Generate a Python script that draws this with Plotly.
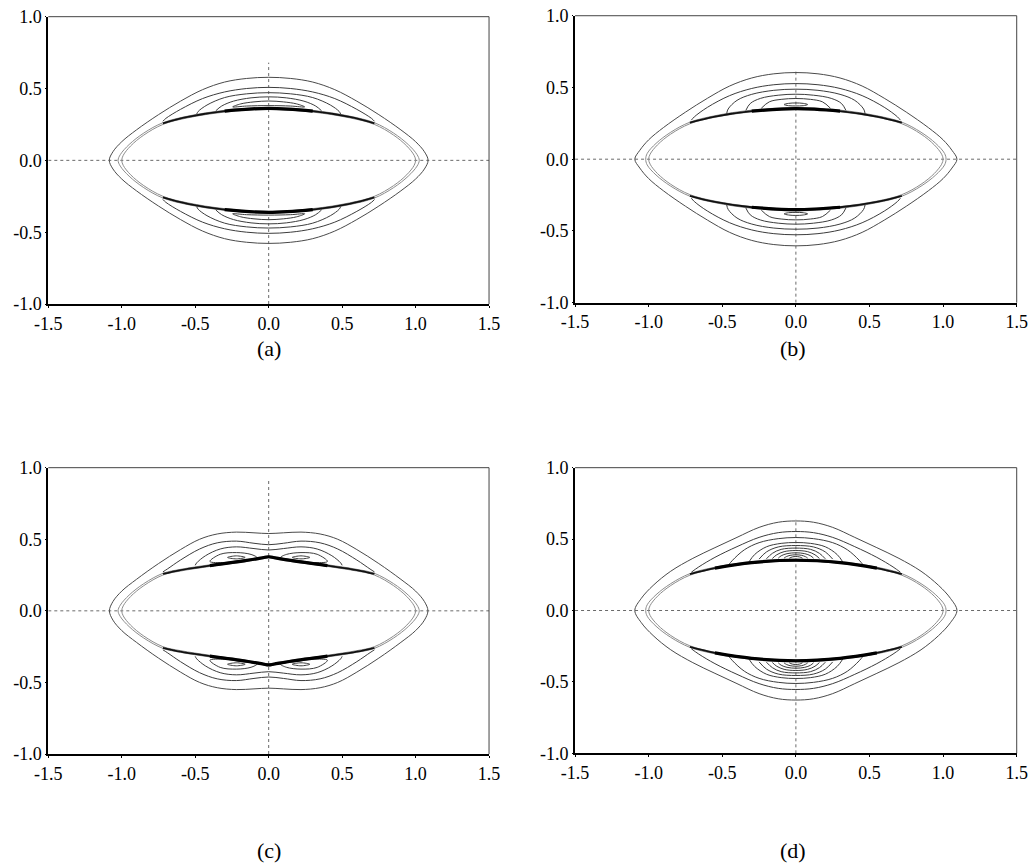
import plotly.graph_objects as go

# ---------------- data (upper-right quadrant, x >= 0) ----------------
# tick labels
X_TICKS = [-1.5, -1.0, -0.5, 0.0, 0.5, 1.0, 1.5]
X_TICK_TEXT = ["-1.5", "-1.0", "-0.5", "0.0", "0.5", "1.0", "1.5"]
Y_TICKS = [-1.0, -0.5, 0.0, 0.5, 1.0]
Y_TICK_TEXT = ["-1.0", "-0.5", "0.0", "0.5", "1.0"]
PANEL_LABELS = ["(a)", "(b)", "(c)", "(d)"]

# ---- panel (a)
PA_OUTER = [(0.00, 0.578), (0.15, 0.570), (0.30, 0.545), (0.45, 0.492), (0.60, 0.412), (0.75, 0.318),
            (0.90, 0.212), (1.00, 0.130), (1.06, 0.060), (1.085, 0.0)]
PA_ELL_OUT = [(0.00, 0.368), (0.30, 0.348), (0.55, 0.308), (0.72, 0.262), (0.85, 0.190), (0.95, 0.110),
              (1.01, 0.040), (1.025, 0.0)]
PA_ELL_IN = [(0.00, 0.355), (0.30, 0.336), (0.55, 0.296), (0.72, 0.250), (0.85, 0.176), (0.94, 0.100),
             (0.99, 0.035), (1.00, 0.0)]
PA_BAND = [(0.00, 0.362), (0.30, 0.343), (0.55, 0.303), (0.72, 0.258)]
PA_ARCS = [
    [(0.00, 0.508), (0.15, 0.500), (0.30, 0.476), (0.45, 0.430), (0.60, 0.355), (0.70, 0.292), (0.72, 0.272)],
    [(0.00, 0.471), (0.15, 0.463), (0.30, 0.437), (0.42, 0.385), (0.48, 0.340), (0.49, 0.322)],
    [(0.00, 0.442), (0.12, 0.435), (0.24, 0.412), (0.32, 0.378), (0.36, 0.345)],
]
PA_LOOPS = [
    [(0.00, 0.413), (0.10, 0.407), (0.19, 0.393), (0.245, 0.372), (0.15, 0.378), (0.00, 0.381)],
]
PA_ISLANDS = []

# ---- panel (b)
PB_OUTER = [(0.00, 0.604), (0.15, 0.595), (0.30, 0.566), (0.45, 0.510), (0.60, 0.425), (0.75, 0.328),
            (0.90, 0.220), (1.00, 0.135), (1.06, 0.062), (1.094, 0.0)]
PB_ELL_OUT = [(0.00, 0.360), (0.30, 0.342), (0.55, 0.303), (0.72, 0.258), (0.85, 0.188), (0.95, 0.110),
              (1.01, 0.040), (1.02, 0.0)]
PB_ELL_IN = [(0.00, 0.348), (0.30, 0.330), (0.55, 0.292), (0.72, 0.247), (0.85, 0.175), (0.94, 0.100),
             (0.99, 0.035), (1.00, 0.0)]
PB_BAND = [(0.00, 0.352), (0.30, 0.335), (0.55, 0.297), (0.72, 0.255)]
PB_ARCS = [
    [(0.00, 0.527), (0.15, 0.519), (0.30, 0.493), (0.45, 0.443), (0.60, 0.362), (0.69, 0.295), (0.71, 0.272)],
    [(0.00, 0.488), (0.15, 0.480), (0.30, 0.452), (0.40, 0.410), (0.46, 0.350), (0.47, 0.318)],
    [(0.00, 0.453), (0.12, 0.446), (0.24, 0.424), (0.31, 0.388), (0.34, 0.340)],
    [(0.00, 0.423), (0.10, 0.417), (0.18, 0.400), (0.235, 0.355)],
]
PB_LOOPS = [
    [(0.00, 0.392), (0.05, 0.389), (0.08, 0.381), (0.05, 0.373), (0.00, 0.371)],
]
PB_ISLANDS = []

# ---- panel (c)
PC_OUTER = [(0.00, 0.540), (0.10, 0.545), (0.22, 0.550), (0.35, 0.537), (0.47, 0.500), (0.60, 0.428),
            (0.75, 0.330), (0.90, 0.220), (1.00, 0.138), (1.06, 0.065), (1.084, 0.0)]
PC_ELL_OUT = [(0.00, 0.385), (0.04, 0.378), (0.15, 0.357), (0.40, 0.322), (0.60, 0.290), (0.72, 0.262),
              (0.85, 0.190), (0.95, 0.110), (1.01, 0.040), (1.025, 0.0)]
PC_ELL_IN = [(0.00, 0.370), (0.04, 0.363), (0.15, 0.345), (0.40, 0.310), (0.60, 0.278), (0.72, 0.250),
             (0.85, 0.176), (0.94, 0.100), (0.99, 0.035), (1.00, 0.0)]
PC_BAND = [(0.00, 0.378), (0.04, 0.371), (0.15, 0.352), (0.40, 0.316), (0.60, 0.285), (0.72, 0.258)]
PC_ARCS = [
    [(0.00, 0.462), (0.10, 0.472), (0.22, 0.487), (0.35, 0.475), (0.47, 0.432), (0.60, 0.355), (0.69, 0.292),
     (0.72, 0.272)],
    [(0.00, 0.425), (0.10, 0.435), (0.22, 0.447), (0.33, 0.432), (0.43, 0.385), (0.49, 0.335), (0.50, 0.318)],
]
PC_LOOPS = []
PC_ISLANDS = [
    [(0.08, 0.372), (0.12, 0.394), (0.22, 0.407), (0.33, 0.395), (0.40, 0.345), (0.30, 0.338), (0.20, 0.352),
     (0.08, 0.372)],
    [(0.16, 0.373), (0.22, 0.384), (0.28, 0.373), (0.22, 0.363), (0.16, 0.373)],
]

# ---- panel (d)
PD_OUTER = [(0.00, 0.627), (0.12, 0.618), (0.25, 0.582), (0.40, 0.512), (0.55, 0.440), (0.70, 0.365),
            (0.85, 0.275), (0.97, 0.175), (1.05, 0.085), (1.094, 0.0)]
PD_ELL_OUT = [(0.00, 0.360), (0.30, 0.342), (0.55, 0.303), (0.72, 0.258), (0.85, 0.188), (0.95, 0.110),
              (1.01, 0.040), (1.02, 0.0)]
PD_ELL_IN = [(0.00, 0.348), (0.30, 0.330), (0.55, 0.292), (0.72, 0.247), (0.85, 0.175), (0.94, 0.100),
             (0.99, 0.035), (1.00, 0.0)]
PD_BAND = [(0.00, 0.352), (0.30, 0.335), (0.55, 0.297), (0.72, 0.255)]
PD_ARCS = [
    [(0.00, 0.553), (0.12, 0.545), (0.25, 0.512), (0.40, 0.447), (0.55, 0.372), (0.66, 0.305), (0.71, 0.268)],
    [(0.00, 0.511), (0.12, 0.503), (0.25, 0.475), (0.35, 0.425), (0.43, 0.352), (0.46, 0.315)],
    [(0.00, 0.476), (0.10, 0.470), (0.20, 0.446), (0.28, 0.392), (0.32, 0.338)],
    [(0.00, 0.455), (0.12, 0.445), (0.20, 0.410), (0.25, 0.360)],
    [(0.00, 0.437), (0.10, 0.428), (0.16, 0.400), (0.20, 0.362)],
    [(0.00, 0.420), (0.08, 0.412), (0.13, 0.390), (0.16, 0.364)],
    [(0.00, 0.404), (0.06, 0.398), (0.10, 0.383), (0.12, 0.366)],
    [(0.00, 0.390), (0.04, 0.386), (0.065, 0.377), (0.08, 0.367)],
    [(0.00, 0.378), (0.025, 0.375), (0.045, 0.366)],
]
PD_LOOPS = []
PD_ISLANDS = []

# top end of the dotted vertical axis line in each panel
V_LINE_TOP = [0.68, 0.61, 0.92, 0.64]
# half-length of the heaviest central part of the dark band
BAND_CORE = [0.45, 0.45, 0.40, 0.55]

# ---------------- geometry helpers (mirror the read quadrant) ----------------
def closed_quad(q):
    ur = list(q)
    lr = [(x, -y) for x, y in reversed(q)][1:]
    ll = [(-x, -y) for x, y in q][1:]
    ul = [(-x, y) for x, y in reversed(q)][1:]
    pts = ur + lr + ll + ul
    return [p[0] for p in pts], [p[1] for p in pts]


def arc_sym(q, s):
    pts = [(-x, s * y) for x, y in reversed(q[1:])] + [(x, s * y) for x, y in q]
    return [p[0] for p in pts], [p[1] for p in pts]


def loop_sym(h, s):
    left = [(-x, y) for x, y in reversed(h)][1:]
    pts = [(x, s * y) for x, y in (list(h) + left)]
    return [p[0] for p in pts], [p[1] for p in pts]


def island(pts, sx, sy):
    return [sx * x for x, y in pts], [sy * y for x, y in pts]


PANELS = [
    (PA_OUTER, PA_ELL_OUT, PA_ELL_IN, PA_BAND, PA_ARCS, PA_LOOPS, PA_ISLANDS),
    (PB_OUTER, PB_ELL_OUT, PB_ELL_IN, PB_BAND, PB_ARCS, PB_LOOPS, PB_ISLANDS),
    (PC_OUTER, PC_ELL_OUT, PC_ELL_IN, PC_BAND, PC_ARCS, PC_LOOPS, PC_ISLANDS),
    (PD_OUTER, PD_ELL_OUT, PD_ELL_IN, PD_BAND, PD_ARCS, PD_LOOPS, PD_ISLANDS),
]

FIG_W, FIG_H = 1030, 864
X_DOMAINS = [[0.0469, 0.4748], [0.5583, 0.9871], [0.0469, 0.4748], [0.5583, 0.9871]]
Y_DOMAINS = [[0.6481, 0.9807], [0.6497, 0.9818], [0.1273, 0.4587], [0.1281, 0.4587]]
LABEL_POS = [(0.2612, 0.5972), (0.7699, 0.5972), (0.2612, 0.0162), (0.7699, 0.0162)]

LINE_COL = "#3c3c3c"
ELL_COL = "#8c8c8c"
FONT = "Liberation Serif, Times New Roman, serif"

fig = go.Figure()


def add(xs, ys, k, color=LINE_COL, width=1.0, dash=None, shape="spline"):
    suffix = "" if k == 0 else str(k + 1)
    line = dict(color=color, width=width, shape=shape)
    if shape == "spline":
        line["smoothing"] = 1.0
    if dash:
        line["dash"] = dash
    fig.add_trace(go.Scatter(x=xs, y=ys, mode="lines", line=line, hoverinfo="skip",
                             showlegend=False, xaxis="x" + suffix, yaxis="y" + suffix))


for k, (outer, ell_out, ell_in, band, arcs, loops, islands) in enumerate(PANELS):
    # dotted reference lines
    add([-1.5, 1.5], [0, 0], k, color="#6a6a6a", width=1, dash="dot", shape="linear")
    add([0, 0], [-1.0, V_LINE_TOP[k]], k, color="#6a6a6a", width=1, dash="dot", shape="linear")
    # closed curves around the ellipse
    for q, col in ((ell_in, ELL_COL), (ell_out, ELL_COL), (outer, "#4a4a4a")):
        xs, ys = closed_quad(q)
        add(xs, ys, k, color=col, width=1.0)
    for s in (1, -1):
        for q in arcs:
            xs, ys = arc_sym(q, s)
            add(xs, ys, k, width=1.0)
        for h in loops:
            xs, ys = loop_sym(h, s)
            add(xs, ys, k, width=1.0)
        for isl in islands:
            for sx in (1, -1):
                xs, ys = island(isl, sx, s)
                add(xs, ys, k, width=1.0)
        # dark band: thin full length plus heavier core
        xs, ys = arc_sym(band, s)
        add(xs, ys, k, color="#111111", width=1.8)
        core = [p for p in band if p[0] <= BAND_CORE[k]]
        xs, ys = arc_sym(core, s)
        add(xs, ys, k, color="#000000", width=3.2)

layout = dict(
    width=FIG_W, height=FIG_H, autosize=False,
    margin=dict(l=0, r=0, t=0, b=0, autoexpand=False),
    paper_bgcolor="white", plot_bgcolor="white",
    showlegend=False,
)
shapes = []
annotations = []
for k in range(4):
    suffix = "" if k == 0 else str(k + 1)
    layout["xaxis" + suffix] = dict(
        domain=X_DOMAINS[k], range=[-1.5, 1.5], anchor="y" + suffix, automargin=False,
        tickmode="array", tickvals=X_TICKS, ticktext=X_TICK_TEXT, ticklabeloverflow="allow",
        showgrid=False, zeroline=False, showline=True, linecolor="black", linewidth=2,
        ticks="outside", ticklen=2, tickcolor="black", tickwidth=1,
        tickfont=dict(family=FONT, size=18, color="black"), fixedrange=True,
    )
    layout["yaxis" + suffix] = dict(
        domain=Y_DOMAINS[k], range=[-1.0, 1.0], anchor="x" + suffix, automargin=False,
        tickmode="array", tickvals=Y_TICKS, ticktext=Y_TICK_TEXT, ticklabeloverflow="allow",
        showgrid=False, zeroline=False, showline=True, linecolor="black", linewidth=2,
        ticks="outside", ticklen=1, tickcolor="black", tickwidth=1,
        tickfont=dict(family=FONT, size=18, color="black"), fixedrange=True,
    )
    xr = ("x" if k == 0 else "x" + str(k + 1)) + " domain"
    yr = ("y" if k == 0 else "y" + str(k + 1)) + " domain"
    shapes.append(dict(type="line", xref=xr, yref=yr, x0=0, x1=1, y0=1, y1=1,
                       line=dict(color="#444444", width=1)))
    shapes.append(dict(type="line", xref=xr, yref=yr, x0=1, x1=1, y0=0, y1=1,
                       line=dict(color="#444444", width=1)))
    annotations.append(dict(text=PANEL_LABELS[k], xref="paper", yref="paper",
                            x=LABEL_POS[k][0], y=LABEL_POS[k][1], showarrow=False,
                            xanchor="center", yanchor="middle",
                            font=dict(family=FONT, size=22, color="black")))
layout["shapes"] = shapes
layout["annotations"] = annotations
fig.update_layout(**layout)

# remove the browser's default body margin so the 1030x864 figure fills the window exactly
fig.write_html("out.html", config={"displayModeBar": False},
               post_script="document.body.style.margin='0';document.body.style.overflow='hidden';")
